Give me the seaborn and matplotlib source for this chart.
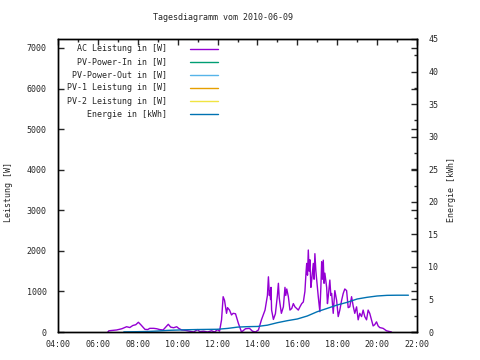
import matplotlib
matplotlib.use("Agg")
import matplotlib.pyplot as plt
import matplotlib.ticker as mticker
import seaborn as sns

# AC power (time in hours, watts)
ac_hours = [6.50, 6.55, 6.94, 7.20, 7.44, 7.60, 7.75, 7.90, 8.03, 8.15, 8.36, 8.50,
            8.60, 8.80, 8.95, 9.10, 9.27, 9.40, 9.53, 9.65, 9.80, 9.95, 10.05, 10.20,
            10.40, 10.60, 10.80, 11.00, 11.10, 11.30, 11.50, 11.70, 11.85, 12.00, 12.10,
            12.20, 12.28, 12.35, 12.45, 12.50, 12.60, 12.70, 12.78, 12.90, 13.04, 13.20,
            13.40, 13.60, 13.75, 13.90, 14.05, 14.20, 14.38, 14.50, 14.55, 14.60, 14.62,
            14.66, 14.68, 14.71, 14.80, 14.90, 15.00, 15.05, 15.09, 15.13, 15.20, 15.30,
            15.38, 15.42, 15.47, 15.55, 15.63, 15.72, 15.80, 15.88, 16.05, 16.13, 16.22,
            16.30, 16.38, 16.44, 16.47, 16.51, 16.55, 16.59, 16.63, 16.68, 16.72, 16.76,
            16.80, 16.84, 16.88, 16.93, 16.97, 17.05, 17.13, 17.18, 17.22, 17.26, 17.30,
            17.34, 17.38, 17.47, 17.51, 17.55, 17.63, 17.68, 17.72, 17.80, 17.88, 17.97,
            18.05, 18.13, 18.22, 18.30, 18.38, 18.47, 18.55, 18.63, 18.72, 18.80, 18.88,
            18.97, 19.05, 19.13, 19.22, 19.30, 19.38, 19.47, 19.55, 19.63, 19.72, 19.80,
            19.88, 19.97, 20.05, 20.13, 20.30, 20.47, 20.72]
ac_watts = [0, 30, 50, 80, 130, 110, 160, 180, 240, 180, 65, 60,
            90, 90, 80, 60, 50, 120, 190, 120, 105, 130, 90, 50,
            40, 20, 0, 60, 10, 20, 0, 30, 0, 60, 20,
            300, 870, 780, 460, 600, 540, 420, 460, 450, 220, 0,
            80, 90, 20, 0, 50, 300, 540, 900, 1360, 900, 1020,
            800, 1100, 540, 310, 450, 900, 1200, 850, 700, 460, 620,
            1100, 900, 1060, 870, 540, 580, 700, 620, 540, 620, 700,
            740, 1000, 1500, 1690, 1400, 2020, 1500, 1780, 1100, 1280, 1500,
            1690, 1300, 1930, 1500, 1280, 870, 500, 1100, 1730, 1300, 1770,
            1200, 1450, 1100, 700, 870, 1280, 900, 950, 460, 1020, 780,
            380, 540, 780, 950, 1060, 1020, 600, 620, 870, 640, 460,
            620, 300, 460, 380, 540, 380, 300, 540, 460, 300, 150,
            180, 250, 150, 110, 90, 30, 0]

# daily energy (time in hours, kWh)
en_hours = [7.3, 8.0, 8.5, 9.0, 9.5, 10.0, 10.5, 11.0, 11.5, 12.0, 12.5, 13.0, 13.5,
            14.0, 14.5, 15.0, 15.5, 16.0, 16.5, 17.0, 17.5, 18.0, 18.5, 19.0, 19.5,
            20.0, 20.5, 21.0, 21.57]
en_kwh = [0.02, 0.05, 0.08, 0.15, 0.25, 0.30, 0.35, 0.38, 0.40, 0.42, 0.55, 0.75, 0.82,
          0.85, 1.05, 1.43, 1.74, 2.00, 2.46, 3.12, 3.63, 4.15, 4.56, 5.07, 5.33,
          5.53, 5.63, 5.65, 5.65]

labels = ["AC Leistung in [W]", "PV-Power-In in [W]", "PV-Power-Out in [W]",
          "PV-1 Leistung in [W]", "PV-2 Leistung in [W]", "Energie in [kWh]"]
colors = ["#9400D3", "#009E73", "#56B4E9", "#E69F00", "#F0E442", "#0072B2"]

sns.set_style("white")
plt.rcParams["font.family"] = ["DejaVu Sans Mono"]
plt.rcParams["font.size"] = 6

fig = plt.figure(figsize=(4.8, 3.6), dpi=100)
ax = fig.add_axes([58 / 480, 1 - 332 / 360, 359 / 480, 293 / 360])
ax2 = ax.twinx()

sns.lineplot(x=ac_hours, y=ac_watts, ax=ax, color=colors[0], linewidth=1,
             estimator=None, sort=False)
sns.lineplot(x=en_hours, y=en_kwh, ax=ax2, color=colors[5], linewidth=1,
             estimator=None, sort=False)

ax.set_xlim(4, 22)
ax.set_ylim(0, 7220)
ax2.set_ylim(0, 45)

ax.xaxis.set_major_locator(mticker.MultipleLocator(2))
ax.xaxis.set_minor_locator(mticker.MultipleLocator(1))
ax.xaxis.set_major_formatter(mticker.FuncFormatter(lambda v, p: "%02d:00" % int(round(v))))
ax.yaxis.set_major_locator(mticker.MultipleLocator(1000))
ax2.yaxis.set_major_locator(mticker.MultipleLocator(5))
ax2.yaxis.set_minor_locator(mticker.MultipleLocator(2.5))

ax.tick_params(axis="x", which="both", direction="in", top=True, pad=6, labelsize=6)
ax.tick_params(axis="x", which="major", length=4, width=1)
ax.tick_params(axis="x", which="minor", length=2, width=1)
ax.tick_params(axis="y", direction="in", right=True, length=4, width=1, pad=8, labelsize=6)
ax2.tick_params(axis="y", which="both", direction="in", width=1, pad=8, labelsize=6)
ax2.tick_params(axis="y", which="major", length=4)
ax2.tick_params(axis="y", which="minor", length=2)

for a in (ax, ax2):
    for s in a.spines.values():
        s.set_color("black")
        s.set_linewidth(1)
    a.set_xlabel("")
    a.set_ylabel("")

# legend drawn gnuplot style: right aligned text, sample line to the right
row_y = [0.966, 0.922, 0.877, 0.833, 0.788, 0.744]
for lab, col, yy in zip(labels, colors, row_y):
    ax.text(0.304, yy, lab, transform=ax.transAxes, ha="right", va="center", fontsize=6)
    ax.plot([0.368, 0.446], [yy, yy], transform=ax.transAxes, color=col, linewidth=1)

fig.text(223 / 480, 1 - 18 / 360, "Tagesdiagramm vom 2010-06-09", ha="center",
         va="center", fontsize=6)
fig.text(9 / 480, 1 - 192 / 360, "Leistung [W]", rotation=90, ha="center",
         va="center", fontsize=6)
fig.text(452 / 480, 1 - 189 / 360, "Energie [kWh]", rotation=90, ha="center",
         va="center", fontsize=6)

fig.savefig("out.png", dpi=100)
